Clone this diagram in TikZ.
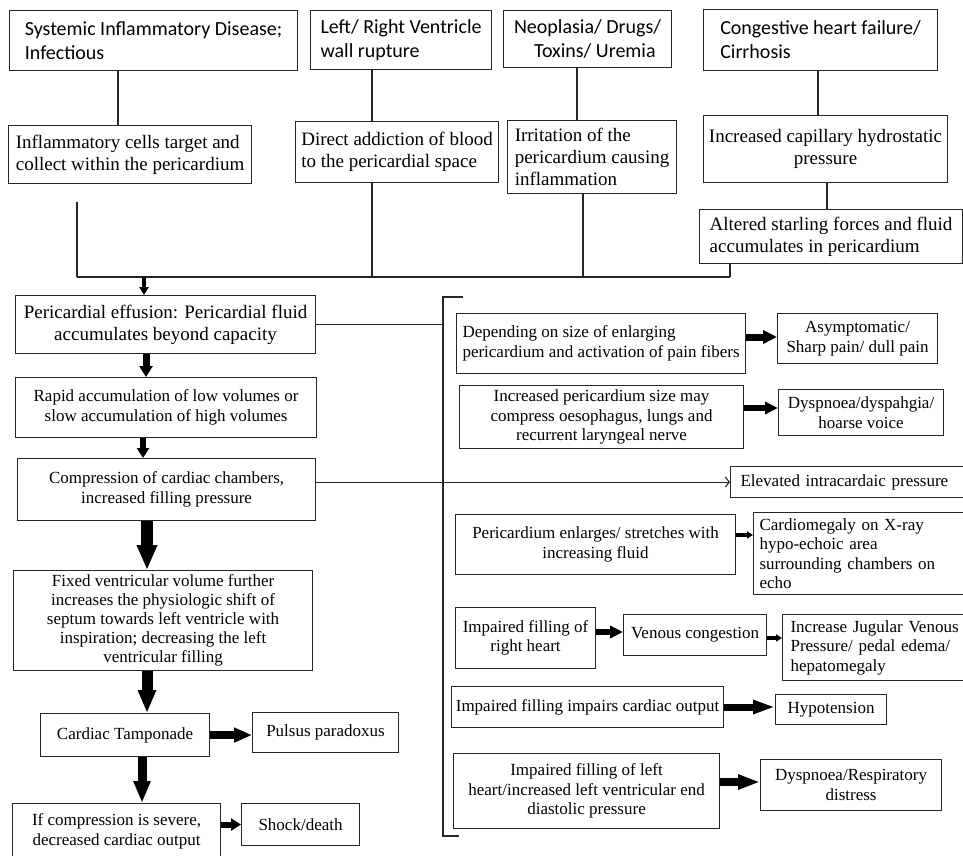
\documentclass[tikz,border=0pt]{standalone}
\usepackage{fontspec}
\setmainfont{Liberation Serif}
\newfontfamily\calib{Carlito}
\usetikzlibrary{arrows.meta}
\usetikzlibrary{math}

\newcommand\fsA{\fontsize{17}{19.5}\selectfont}
\newcommand\fsB{\fontsize{19}{22}\selectfont}
\newcommand\fsC{\calib\fontsize{20}{24}\selectfont}

\tikzset{
	cell/.style={draw=black!85, line width=1.1pt, anchor=north west, inner xsep=3pt, inner ysep=0pt, align=center, font=\fsA},
	wh/.style 2 args={minimum width=#1, minimum height=#2},
	fat/.style n args={3}{line width=#1, -{Triangle[length=#2, width=#3]}},
	wire/.style={draw=black!85, line width=1.1pt},
}

\begin{document}
\begin{tikzpicture}[x=1pt,y=-1pt]
	\tikzmath{\busy=277; \brx=443; \brtop=297; \brbot=836;}
	\useasboundingbox (0,0) rectangle (963,856);
	\fill[white] (0,0) rectangle (963,856);
	% causes
	\node[cell, wh={288}{60}, align=left, font=\fsC] (sys) at (9,10) {Systemic Inflammatory Disease;\\Infectious};
	\node[cell, wh={181}{59}, align=left, font=\fsC] (rup) at (310,10) {Left/ Right Ventricle\\wall rupture};
	\node[cell, wh={168}{57}, align=left, font=\fsC] (neo) at (503,10) {Neoplasia/ Drugs/\\\hspace*{20pt}Toxins/ Uremia};
	\node[cell, wh={234}{61}, align=left, font=\fsC] (chf) at (703,9) {Congestive heart failure/\\Cirrhosis};
	\node[cell, wh={243}{58}, align=left, font=\fsB] (infl) at (8,125) {Inflammatory cells target and\\collect within the pericardium};
	\node[cell, wh={203}{61}, align=left, font=\fsB] (blood) at (295,121) {Direct addiction of blood\\to the pericardial space};
	\node[cell, wh={169}{73}, align=left, font=\fsB] (irr) at (507,120) {Irritation of the\\pericardium causing\\inflammation};
	\node[cell, wh={244}{67}, font=\fsB] (hydro) at (703,115) {Increased capillary hydrostatic\\pressure};
	\node[cell, wh={263}{54}, align=left, font=\fsB] (star) at (699,209) {Altered starling forces and fluid\\accumulates in pericardium};
	% main column
	\node[cell, wh={300}{58}, font=\fsB] (eff) at (15,295) {Pericardial effusion: Pericardial fluid\\accumulates beyond capacity};
	\node[cell, wh={301}{60}] (accum) at (15,377) {Rapid accumulation of low volumes or\\slow accumulation of high volumes};
	\node[cell, wh={298}{62}] (comp) at (17,458) {Compression of cardiac chambers,\\increased filling pressure};
	\node[cell, wh={299}{100}, font=\fontsize{17}{19}\selectfont] (fixed) at (13,570) {Fixed ventricular volume further\\increases the physiologic shift of\\septum towards left ventricle with\\inspiration; decreasing the left\\ventricular filling};
	\node[cell, wh={169}{43}] (tamp) at (40,713) {Cardiac Tamponade};
	\node[cell, wh={146}{40}] (pulsus) at (252,712) {Pulsus paradoxus};
	\node[cell, wh={208}{56}] (severe) at (12,803) {If compression is severe,\\decreased cardiac output};
	\node[cell, wh={118}{42}] (shock) at (241,803) {Shock/death};
	% effects
	\node[cell, wh={289}{60}, align=left] (pain) at (456,313) {Depending on size of enlarging\\pericardium and activation of pain fibers};
	\node[cell, wh={160}{50}] (sharp) at (777,313) {Asymptomatic/\\Sharp pain/ dull pain};
	\node[cell, wh={284}{63}] (oeso) at (459,385) {Increased pericardium size may\\compress oesophagus, lungs and\\recurrent laryngeal nerve};
	\node[cell, wh={165}{46}] (dysph) at (778,389) {Dyspnoea/dyspahgia/\\hoarse voice};
	\node[cell, wh={238}{31}, align=left, inner xsep=10pt, text width=218pt] (elev) at (730,466) {Elevated intracardaic pressure};
	\node[cell, wh={280}{60}] (stretch) at (455,514) {Pericardium enlarges/ stretches with\\increasing fluid};
	\node[cell, wh={215}{82}, align=left, inner xsep=6pt, text width=203pt] (xray) at (753,512) {Cardiomegaly on X-ray\\hypo-echoic area\\surrounding chambers on\\echo};
	\node[cell, wh={140}{61}] (rheart) at (455,607) {Impaired filling of\\right heart};
	\node[cell, wh={143}{41}] (venous) at (623,614) {Venous congestion};
	\node[cell, wh={192}{66}, align=left, inner xsep=8pt, text width=176pt] (jvp) at (782,614) {Increase Jugular Venous\\Pressure/ pedal edema/\\hepatomegaly};
	\node[cell, wh={272}{41}] (output) at (451,686) {Impaired filling impairs cardiac output};
	\node[cell, wh={111}{30}] (hypo) at (775,694) {Hypotension};
	\node[cell, wh={266}{75}] (lheart) at (453,753) {Impaired filling of left\\heart/increased left ventricular end\\diastolic pressure};
	\node[cell, wh={181}{51}] (resp) at (760,759) {Dyspnoea/Respiratory\\distress};
	% tree into the bus
	\coordinate (busL) at (77,\busy);
	\coordinate (busR) at (730,\busy);
	\draw[wire] (busL) -- (busR);
	\draw[wire] (sys.south -| 118,0) -- (infl.north -| 118,0);
	\draw[wire] ([yshift=-18pt]infl.south -| busL) -- (busL);
	\draw[wire] (rup.south -| 372,0) -- (blood.north -| 372,0);
	\draw[wire] (blood.south -| 372,0) -- (busL -| 372,0);
	\draw[wire] (neo.south -| 577,0) -- (irr.north -| 577,0);
	\draw[wire] (irr.south -| 583,0) -- (busL -| 583,0);
	\draw[wire] (chf.south -| 818,0) -- (hydro.north -| 818,0);
	\draw[wire] (hydro.south -| 827,0) -- (star.north -| 827,0);
	\draw[wire] (star.south -| busR) -- (busR);
	\draw[fat={3.5pt}{8pt}{9pt}] (busL -| 144,0) -- (eff.north -| 144,0);
	% main column arrows
	\draw[fat={7pt}{11pt}{13pt}] (eff.south -| 146,0) -- (accum.north -| 146,0);
	\draw[fat={6pt}{10pt}{12pt}] (accum.south -| 143,0) -- (comp.north -| 143,0);
	\draw[fat={12pt}{25pt}{19pt}] (comp.south -| 147,0) -- (fixed.north -| 147,0);
	\draw[fat={11pt}{23pt}{17pt}] (fixed.south -| 147,0) -- (tamp.north -| 147,0);
	\draw[fat={9pt}{22pt}{16pt}] (tamp.south -| 142,0) -- (severe.north -| 142,0);
	\draw[fat={8pt}{18pt}{14pt}] (tamp.east) -- (tamp.east -| pulsus.west);
	\draw[fat={6pt}{10pt}{12pt}] (shock.west -| severe.east) -- (shock.west);
	% bracket
	\coordinate (brT) at (\brx,\brtop);
	\coordinate (brB) at (\brx,\brbot);
	\draw[wire] ([xshift=20pt]brT) -- (brT) -- (brB) -- ([xshift=16pt]brB);
	\draw[wire] (eff.east) -- (eff.east -| brT);
	\draw[wire, -{Straight Barb[length=4pt,width=10pt]}] (comp.east |- elev.west) -- (elev.west);
	% effect arrows
	\draw[fat={7pt}{14pt}{13pt}] (pain.east |- 0,337) -- (sharp.west |- 0,337);
	\draw[fat={6pt}{13pt}{12pt}] (oeso.east |- 0,408) -- (dysph.west |- 0,408);
	\draw[fat={3.5pt}{6pt}{7pt}] (stretch.east |- 0,535) -- (xray.west |- 0,535);
	\draw[fat={6pt}{13pt}{12pt}] (rheart.east |- 0,632) -- (venous.west |- 0,632);
	\draw[fat={4pt}{6pt}{7pt}] (venous.east |- 0,638) -- (jvp.west |- 0,638);
	\draw[fat={7pt}{22pt}{13pt}] (output.east |- 0,707) -- (hypo.west |- 0,707);
	\draw[fat={8pt}{22pt}{14pt}] (lheart.east |- 0,782) -- (resp.west |- 0,782);
\end{tikzpicture}
\end{document}
